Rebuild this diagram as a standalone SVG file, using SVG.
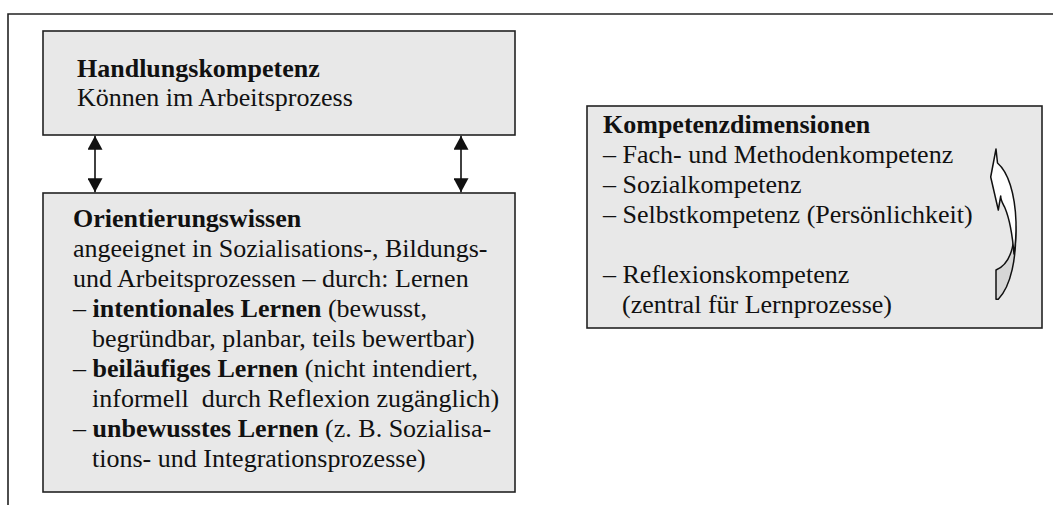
<svg xmlns="http://www.w3.org/2000/svg" width="1053" height="505" viewBox="0 0 1053 505">
<defs>
<style>
.box{fill:#e8e8e8;stroke:#222;stroke-width:1.6}
.t{font-family:"Liberation Serif","Times New Roman",serif;font-size:26px;fill:#111}
.b{font-weight:bold}
.con{stroke:#111;stroke-width:1.6;fill:none}
</style>
<marker id="ah" viewBox="0 0 14 15" refX="14" refY="7.5" markerWidth="14" markerHeight="15" markerUnits="userSpaceOnUse" orient="auto-start-reverse">
<path d="M0,0 L14,7.5 L0,15 Z" fill="#111"/>
</marker>
</defs>
<rect width="1053" height="505" fill="#fff"/>
<path d="M8,505 L8,14 L1053,14" fill="none" stroke="#222" stroke-width="1.6"/>

<g id="handlungskompetenz">
<rect class="box" x="43" y="31" width="472" height="104"/>
<text class="t b" x="77" y="77">Handlungskompetenz</text>
<text class="t" x="77" y="106">Können im Arbeitsprozess</text>
</g>

<g id="orientierungswissen">
<rect class="box" x="43" y="193" width="472" height="299"/>
<text class="t b" x="73" y="227">Orientierungswissen</text>
<text class="t" x="73" y="257">angeeignet in Sozialisations-, Bildungs-</text>
<text class="t" x="73" y="287">und Arbeitsprozessen – durch: Lernen</text>
<text class="t" x="73" y="317">– <tspan class="b">intentionales Lernen</tspan> (bewusst,</text>
<text class="t" x="92" y="347">begründbar, planbar, teils bewertbar)</text>
<text class="t" x="73" y="377">– <tspan class="b">beiläufiges Lernen</tspan> (nicht intendiert,</text>
<text class="t" x="92" y="407" xml:space="preserve">informell  durch Reflexion zugänglich)</text>
<text class="t" x="73" y="437">– <tspan class="b">unbewusstes Lernen</tspan> (z. B. Sozialisa-</text>
<text class="t" x="92" y="467">tions- und Integrationsprozesse)</text>
</g>

<g id="kompetenzdimensionen">
<rect class="box" x="587" y="106" width="455" height="222"/>
<text class="t b" x="603" y="133">Kompetenzdimensionen</text>
<text class="t" x="603" y="163">– Fach- und Methodenkompetenz</text>
<text class="t" x="603" y="193">– Sozialkompetenz</text>
<text class="t" x="603" y="223">– Selbstkompetenz (Persönlichkeit)</text>
<text class="t" x="603" y="283">– Reflexionskompetenz</text>
<text class="t" x="622" y="313">(zentral für Lernprozesse)</text>
<g id="curved-arrow" stroke="#111" stroke-width="1.5" stroke-linejoin="round">
<path d="M996,270 C1006,266 1012,256 1014,238 L1015.5,226 C1016.8,258 1011,286 998.3,299.3 L996,299.3 Z" fill="#d6d6d6"/>
<path d="M996,149 L997.5,163 C1008,172 1015,193 1016,222 C1016.3,238 1015,248 1014,254 C1012.5,236 1010,220 1005,208 C1002.5,203 1000.5,200 1000.7,196 L998.3,210 L990.7,177 Z" fill="#fff"/>
</g>
</g>

<g id="connectors">
<line class="con" x1="95" y1="135.8" x2="95" y2="192.2" marker-start="url(#ah)" marker-end="url(#ah)"/>
<line class="con" x1="461" y1="135.8" x2="461" y2="192.2" marker-start="url(#ah)" marker-end="url(#ah)"/>
</g>
</svg>
